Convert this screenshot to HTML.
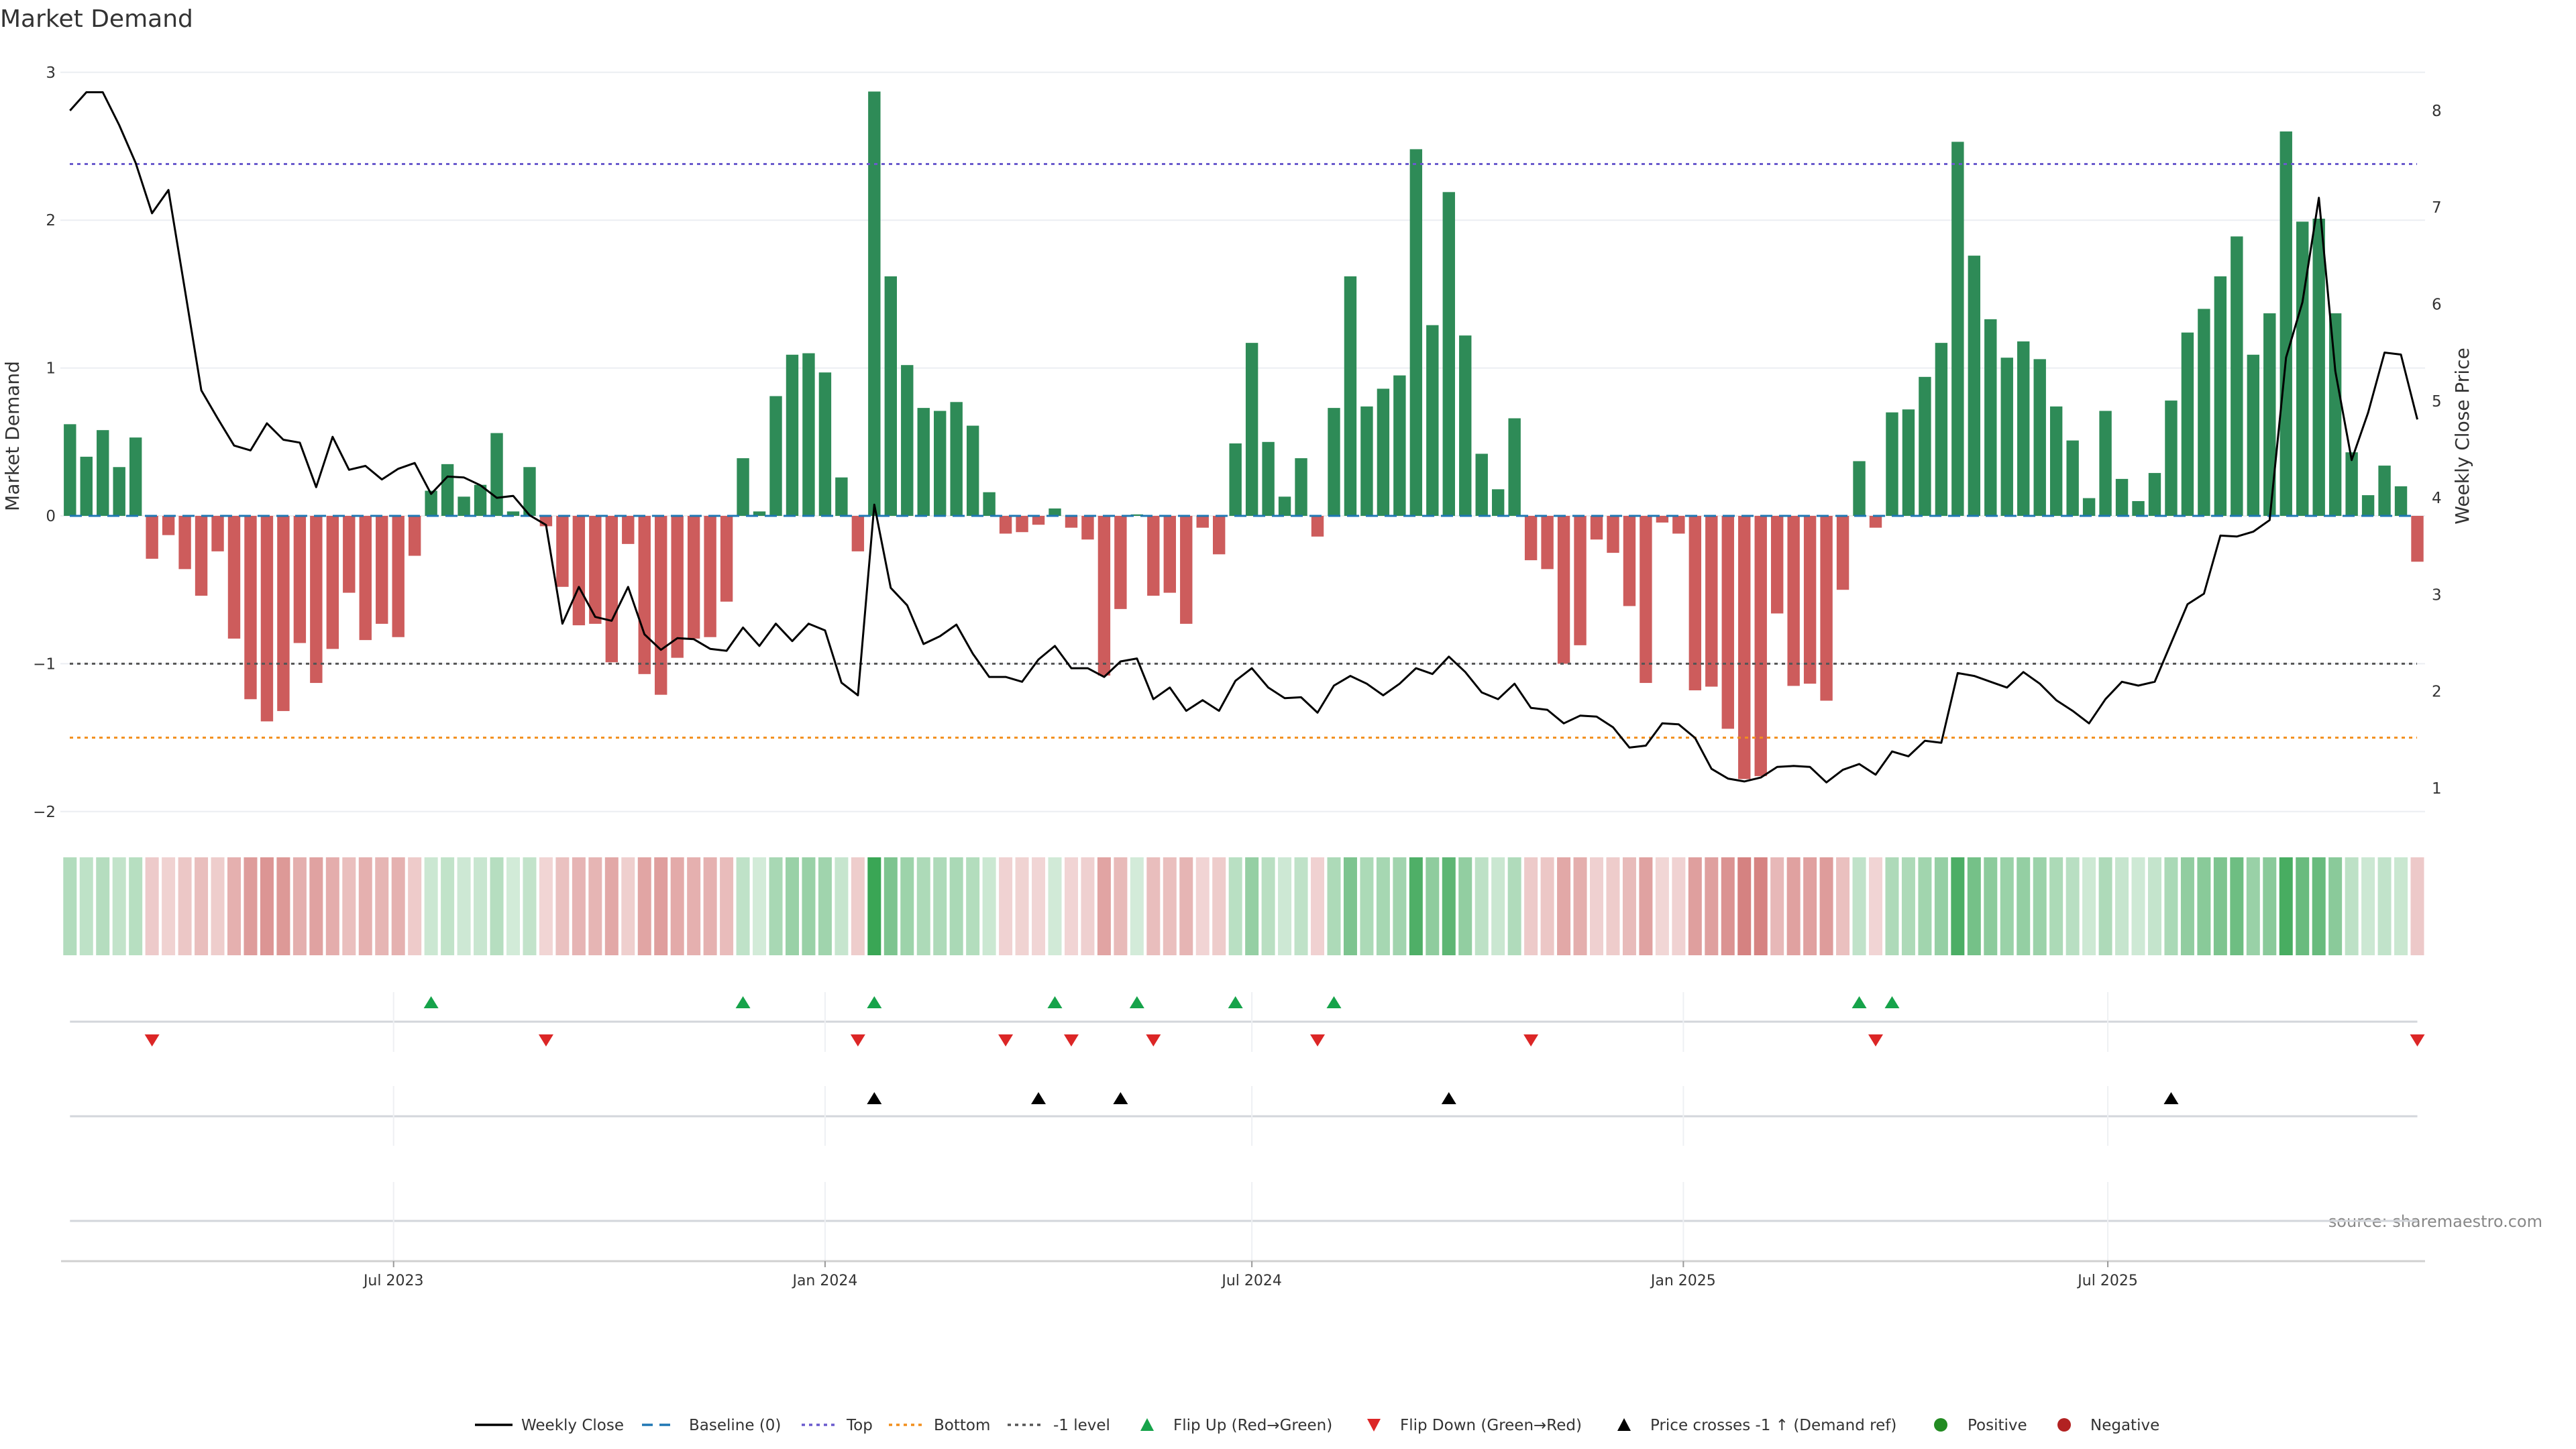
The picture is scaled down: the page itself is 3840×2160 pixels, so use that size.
<!DOCTYPE html>
<html><head><meta charset="utf-8"><style>
html,body{margin:0;padding:0;background:#fff;}
svg{display:block;font-family:"DejaVu Sans","Liberation Sans",sans-serif;}
</style></head><body>
<svg id="c" width="3840" height="2160" viewBox="0 0 3840 2160">
<rect width="3840" height="2160" fill="#fff"/>
<text x="0" y="40" font-size="36" fill="#333">Market Demand</text>
<text transform="translate(28,650) rotate(-90)" text-anchor="middle" font-size="28" fill="#333">Market Demand</text>
<text transform="translate(3680,650) rotate(-90)" text-anchor="middle" font-size="28" fill="#333">Weekly Close Price</text>
<text x="3790" y="1829" text-anchor="end" font-size="24" fill="#888">source: sharemaestro.com</text>
<g id="legend"></g>
</svg>
<script>
const demand=[0.62,0.40,0.58,0.33,0.53,-0.29,-0.13,-0.36,-0.54,-0.24,-0.83,-1.24,-1.39,-1.32,-0.86,-1.13,-0.90,-0.52,-0.84,-0.73,-0.82,-0.27,0.17,0.35,0.13,0.21,0.56,0.03,0.33,-0.07,-0.48,-0.74,-0.73,-0.99,-0.19,-1.07,-1.21,-0.96,-0.83,-0.82,-0.58,0.39,0.03,0.81,1.09,1.10,0.97,0.26,-0.24,2.87,1.62,1.02,0.73,0.71,0.77,0.61,0.16,-0.12,-0.11,-0.06,0.05,-0.08,-0.16,-1.08,-0.63,0.01,-0.54,-0.52,-0.73,-0.08,-0.26,0.49,1.17,0.50,0.13,0.39,-0.14,0.73,1.62,0.74,0.86,0.95,2.48,1.29,2.19,1.22,0.42,0.18,0.66,-0.30,-0.36,-1.00,-0.875,-0.16,-0.25,-0.61,-1.13,-0.045,-0.12,-1.18,-1.155,-1.44,-1.78,-1.76,-0.66,-1.15,-1.135,-1.25,-0.50,0.37,-0.08,0.70,0.72,0.94,1.17,2.53,1.76,1.33,1.07,1.18,1.06,0.74,0.51,0.12,0.71,0.25,0.10,0.29,0.78,1.24,1.40,1.62,1.89,1.09,1.37,2.60,1.99,2.01,1.37,0.43,0.14,0.34,0.20,-0.31];
const price=[8.00,8.19,8.19,7.85,7.46,6.94,7.18,6.15,5.11,4.82,4.54,4.49,4.77,4.60,4.57,4.11,4.63,4.29,4.33,4.19,4.30,4.36,4.04,4.22,4.21,4.13,4.00,4.02,3.82,3.72,2.70,3.08,2.77,2.73,3.08,2.59,2.43,2.55,2.54,2.44,2.42,2.66,2.47,2.70,2.52,2.70,2.63,2.09,1.96,3.93,3.07,2.89,2.49,2.57,2.69,2.39,2.15,2.15,2.10,2.33,2.47,2.24,2.24,2.15,2.31,2.34,1.92,2.04,1.80,1.91,1.80,2.11,2.24,2.04,1.93,1.94,1.78,2.06,2.16,2.08,1.96,2.08,2.24,2.18,2.36,2.20,1.99,1.92,2.08,1.83,1.81,1.67,1.75,1.74,1.63,1.42,1.44,1.67,1.66,1.52,1.20,1.10,1.07,1.11,1.22,1.23,1.22,1.06,1.19,1.25,1.14,1.38,1.33,1.49,1.47,2.19,2.16,2.10,2.04,2.20,2.08,1.91,1.80,1.67,1.92,2.10,2.06,2.10,2.50,2.90,3.01,3.61,3.60,3.65,3.77,5.45,6.02,7.10,5.31,4.39,4.88,5.50,5.48,4.81];
const leftTicks=[-2,-1,0,1,2,3];
const rightTicks=[1,2,3,4,5,6,7,8];
const dateTickLabels=["Jul 2023","Jan 2024","Jul 2024","Jan 2025","Jul 2025"];
const dateTickDays=[138,322,504,688,869];
const topLevel=2.38, bottomLevel=-1.5, minusOneLevel=-1;

const NS="http://www.w3.org/2000/svg";
const svg=document.getElementById('c');
function el(tag,attrs,parent){const e=document.createElementNS(NS,tag);for(const k in attrs)e.setAttribute(k,attrs[k]);(parent||svg).appendChild(e);return e;}
const X0=104.3, STEP=24.47;
const xC=i=>X0+STEP*i;
const xDay=d=>X0+d/7*STEP;
const yD=v=>769-220.4*v;
const yP=p=>1175-(p-1)*144.3;
const pInv=y=>1+(1175-y)/144.3;
const L=90,R=3615;
const fmt=v=>v<0?"\u2212"+Math.abs(v):String(v);

leftTicks.forEach(t=>{
  const g=el('line',{x1:L,x2:R,y1:yD(t),y2:yD(t),stroke:'#eceef2','stroke-width':2});
  
  
  const tx=el('text',{x:83,y:yD(t)+8,'text-anchor':'end','font-size':23,fill:'#333'});
  tx.textContent=fmt(t);
  
  
});
rightTicks.forEach(t=>{
  const tx=el('text',{x:3625,y:yP(t)+8,'font-size':23,fill:'#333'});
  tx.textContent=String(t);
  
  
});
demand.forEach((v,i)=>{
  const y0=yD(0),y1=yD(v);
  const r=el('rect',{x:xC(i)-9.2,y:Math.min(y0,y1),width:18.4,height:Math.max(0.5,Math.abs(y1-y0)),fill:v>=0?'#2e8b57':'#cd5c5c'});
  
  
});
function hline(v,color,dash,name,w){
  const l=el('line',{x1:L+14,x2:R-12,y1:yD(v),y2:yD(v),stroke:color,'stroke-width':w||3,'stroke-dasharray':dash});
  
  
}
hline(0,'#1f77b4','18 10','baseline-line',3);
hline(topLevel,'#6a5acd','5 6','top-line');
hline(bottomLevel,'#f28e1c','5 6','bottom-line');
hline(minusOneLevel,'#555','5 6','minus-one-line');
const pts=price.map((p,i)=>xC(i).toFixed(1)+','+yP(p).toFixed(1)).join(' ');
const pl=el('polyline',{points:pts,fill:'none',stroke:'#000','stroke-width':3,'stroke-linejoin':'round'});


const vmax=Math.max(...demand.map(Math.abs));
function mix(base,a){return 'rgb('+base.map(c=>Math.round(255+(c-255)*a)).join(',')+')';}
demand.forEach((v,i)=>{
  const a=0.22+0.78*Math.abs(v)/vmax;
  const c=v>=0?mix([58,166,85],a):mix([196,78,76],a);
  const r=el('rect',{x:xC(i)-10,y:1278,width:20,height:146,fill:c});
  
  
});
[[1523,1479,1568],[1664,1619,1708],[1820,1762,1880]].forEach(p=>{
  const l=el('line',{x1:xC(0),x2:xC(demand.length-1),y1:p[0],y2:p[0],stroke:'#d3d6db','stroke-width':3});
  
  
  dateTickDays.forEach(d=>{
    const v=el('line',{x1:xDay(d),x2:xDay(d),y1:p[1],y2:p[2],stroke:'#eef0f3','stroke-width':2});
    
    
  });
});
function tri(x,y,up,color,name){
  const d=up?`M${x-11},${y+9} L${x+11},${y+9} L${x},${y-9} Z`:`M${x-11},${y-9} L${x+11},${y-9} L${x},${y+9} Z`;
  const t=el('path',{d:d,fill:color});
  
  
}
const thr=pInv(yD(minusOneLevel));
for(let i=1;i<demand.length;i++){
  if(demand[i-1]<0&&demand[i]>=0)tri(xC(i),1494,true,'#16a34a','flip-up-marker');
  if(demand[i-1]>=0&&demand[i]<0)tri(xC(i),1551,false,'#dc2626','flip-down-marker');
  if(price[i-1]<thr&&price[i]>=thr)tri(xC(i),1637,true,'#000','price-cross-marker');
}
const ax=el('line',{x1:91,x2:R,y1:1880,y2:1880,stroke:'#d0d0d0','stroke-width':3});


dateTickLabels.forEach((lab,k)=>{
  const x=xDay(dateTickDays[k]);
  const t=el('line',{x1:x,x2:x,y1:1880,y2:1889,stroke:'#999','stroke-width':2});
  
  
  const tx=el('text',{x:x,y:1916,'text-anchor':'middle','font-size':22,fill:'#333'});
  tx.textContent=lab;
  
  
});
const lg=document.getElementById('legend');
const LY=2124;
function ltext(x,s,name){const t=el('text',{x:x,y:LY+8,'font-size':23,fill:'#333'},lg);t.textContent=s;}
function lline(x1,x2,c,dash,name){const l=el('line',{x1:x1,x2:x2,y1:LY,y2:LY,stroke:c,'stroke-width':3.5,'stroke-dasharray':dash},lg);}
lline(708,764,'#000','', 'legend-weekly-close-swatch'); ltext(777,'Weekly Close','legend-weekly-close');
lline(957,1007,'#1f77b4','16 10','legend-baseline-swatch'); ltext(1027,'Baseline (0)','legend-baseline');
lline(1195,1245,'#6a5acd','5 6','legend-top-swatch'); ltext(1262,'Top','legend-top');
lline(1325,1377,'#f28e1c','5 6','legend-bottom-swatch'); ltext(1392,'Bottom','legend-bottom');
lline(1502,1553,'#555','5 6','legend-minus-one-swatch'); ltext(1570,'-1 level','legend-minus-one');
function ltri(x,up,c,name){const d=up?`M${x-10},${LY+9} L${x+10},${LY+9} L${x},${LY-10} Z`:`M${x-10},${LY-9} L${x+10},${LY-9} L${x},${LY+10} Z`;const t=el('path',{d:d,fill:c},lg);}
ltri(1710,true,'#16a34a','legend-flip-up-swatch'); ltext(1749,'Flip Up (Red\u2192Green)','legend-flip-up');
ltri(2048,false,'#dc2626','legend-flip-down-swatch'); ltext(2087,'Flip Down (Green\u2192Red)','legend-flip-down');
ltri(2421,true,'#000','legend-price-cross-swatch'); ltext(2460,'Price crosses -1 \u2191 (Demand ref)','legend-price-cross');
function lcirc(x,c,name){const e=el('circle',{cx:x,cy:LY,r:10,fill:c},lg);}
lcirc(2893,'#228b22','legend-positive-swatch'); ltext(2933,'Positive','legend-positive');
lcirc(3077,'#b22222','legend-negative-swatch'); ltext(3116,'Negative','legend-negative');
</script>
</body></html>
